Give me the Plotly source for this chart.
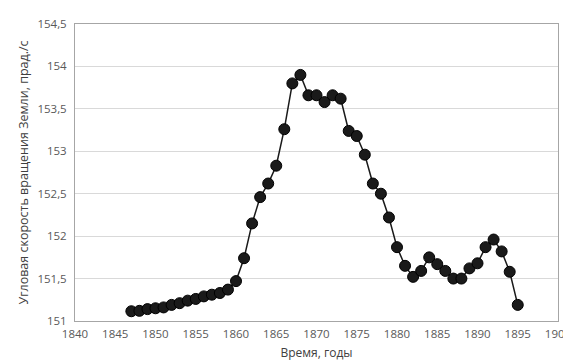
import plotly.graph_objects as go

years = list(range(1847, 1896))
speed = [151.115, 151.12, 151.14, 151.15, 151.16, 151.19, 151.21, 151.24, 151.26, 151.29,
         151.31, 151.33, 151.37, 151.47, 151.74, 152.15, 152.46, 152.62, 152.83, 153.26,
         153.80, 153.90, 153.66, 153.66, 153.58, 153.66, 153.62, 153.24, 153.18, 152.96,
         152.62, 152.50, 152.22, 151.87, 151.65, 151.52, 151.59, 151.75, 151.67, 151.59,
         151.50, 151.50, 151.62, 151.68, 151.87, 151.96, 151.82, 151.58, 151.19]

y_tick_vals = [151, 151.5, 152, 152.5, 153, 153.5, 154, 154.5]
y_tick_text = ["151", "151,5", "152", "152,5", "153", "153,5", "154", "154,5"]
x_tick_vals = [1840, 1845, 1850, 1855, 1860, 1865, 1870, 1875, 1880, 1885, 1890, 1895, 1900]

fig = go.Figure()
fig.add_trace(go.Scatter(
    x=years, y=speed, mode="lines+markers",
    line=dict(color="#1a1a1a", width=1.5),
    marker=dict(size=11, color="#1a1a1a", line=dict(color="#000000", width=1)),
    showlegend=False,
))

font_family = "Open Sans, Liberation Sans, sans-serif"
fig.update_layout(
    width=571, height=360,
    margin=dict(l=67, r=19, t=8, b=47),
    paper_bgcolor="white", plot_bgcolor="white",
    font=dict(family=font_family, size=11, color="#595959"),
    xaxis=dict(
        range=[1840, 1900], tickvals=x_tick_vals, ticks="", showgrid=False,
        showline=True, linecolor="#a6a6a6", linewidth=1, mirror=True,
        zeroline=False, ticklabelstandoff=2,
        title=dict(text="Время, годы", font=dict(size=12, color="#404040"), standoff=8),
        tickfont=dict(size=11.5, color="#595959"),
    ),
    yaxis=dict(
        range=[151, 154.5], tickvals=y_tick_vals, ticktext=y_tick_text, ticks="",
        showgrid=True, gridcolor="#d9d9d9", gridwidth=1,
        showline=True, linecolor="#a6a6a6", linewidth=1, mirror=True,
        zeroline=False, ticklabelstandoff=5,
        title=dict(text="Угловая скорость вращения Земли, прад./с", font=dict(size=12.5, color="#404040"), standoff=6),
        tickfont=dict(size=11.5, color="#595959"),
    ),
)

fig.write_html("out.html")
